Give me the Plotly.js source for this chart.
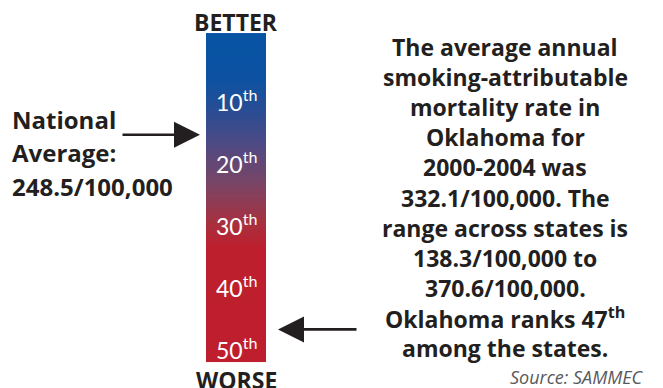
<!DOCTYPE html>
<html><head><meta charset="utf-8">
<script src="https://cdn.plot.ly/plotly-3.0.1.min.js"></script>
<style>html,body{margin:0;padding:0;background:#fff}#c{width:663px;height:388px}</style>
</head><body><div id="c"></div>
<script>
// ---- data ----
const rankTicks = [10, 20, 30, 40, 50];
const rankLabels = ['10<sup>th</sup>', '20<sup>th</sup>', '30<sup>th</sup>', '40<sup>th</sup>', '50<sup>th</sup>'];
const barRange = [-0.8, 52.4];           // rank extent of the gradient bar
const nationalRank = 15.6;                // position of national average on scale
const oklahomaRank = 47;
const leftLines = ['National', 'Average:', '248.5/100,000'];
const rightLines = ['The average annual', 'smoking-attributable', 'mortality rate in',
  'Oklahoma for', '2000-2004 was', '332.1/100,000. The', 'range across states is',
  '138.3/100,000 to', '370.6/100,000.', 'Oklahoma ranks 47<sup>th</sup>', 'among the states.'];
const topLabel = 'BETTER', bottomLabel = 'WORSE', sourceText = 'Source: SAMMEC';

// ---- layout helpers ----
const W = 663, H = 388;
const yPx0 = 38, yPxPerRank = 6.2;
const yRange = [(H - yPx0) / yPxPerRank, -yPx0 / yPxPerRank];
const py = p => 1 - p / H;
const barX = [206, 266];

// gradient rows
const ys = [], zs = [];
for (let r = barRange[0]; r <= barRange[1] + 1e-9; r += 0.25) { ys.push(r); }
for (let i = 0; i < ys.length - 1; i++) zs.push([(ys[i] + ys[i + 1]) / 2]);
const span = barRange[1] - barRange[0];
const st = r => (r - barRange[0]) / span;
const colorscale = [
  [0, '#0753a4'], [st(6.8), '#0d52a2'], [st(12.1), '#2b4c92'], [st(16.5), '#4a4a86'],
  [st(23.4), '#794566'], [st(29.8), '#a7303f'], [st(33.7), '#bd1f2d'], [1, '#be1e2d']
];

const bold = '"Open Sans", sans-serif';
const ann = [];
ann.push({xref: 'x', yref: 'paper', x: 236, y: py(22), text: '<b>' + topLabel + '</b>', showarrow: false,
  font: {family: bold, size: 23, color: '#231f20'}, xanchor: 'center', yanchor: 'middle'});
ann.push({xref: 'x', yref: 'paper', x: 236, y: py(380), text: '<b>' + bottomLabel + '</b>', showarrow: false,
  font: {family: bold, size: 23, color: '#231f20'}, xanchor: 'center', yanchor: 'middle'});
rankTicks.forEach((r, i) => ann.push({xref: 'x', yref: 'y', x: 236, y: r, text: rankLabels[i], showarrow: false,
  font: {family: 'Lato, sans-serif', size: 23, color: '#ffffff'}, xanchor: 'center', yanchor: 'middle'}));
leftLines.forEach((t, i) => ann.push({xref: 'x', yref: 'paper', x: 10, y: py(119 + i * 33.5), text: '<b>' + t + '</b>',
  showarrow: false, font: {family: bold, size: 24, color: '#231f20'}, xanchor: 'left', yanchor: 'middle'}));
rightLines.forEach((t, i) => ann.push({xref: 'x', yref: 'paper', x: 505, y: py(47 + i * 30.1), text: '<b>' + t + '</b>',
  showarrow: false, font: {family: bold, size: 23, color: '#231f20'}, xanchor: 'center', yanchor: 'middle'}));
ann.push({xref: 'x', yref: 'paper', x: 646, y: py(377), text: '<i>' + sourceText + '</i>', showarrow: false,
  font: {family: '"Open Sans", sans-serif', size: 18, color: '#58595b'}, xanchor: 'right', yanchor: 'middle'});
// arrows
ann.push({xref: 'x', yref: 'y', axref: 'x', ayref: 'y', x: 200, y: nationalRank, ax: 121, ay: nationalRank,
  text: '', showarrow: true, arrowhead: 2, arrowsize: 2.0, arrowwidth: 2.6, arrowcolor: '#231f20'});
ann.push({xref: 'x', yref: 'y', axref: 'x', ayref: 'y', x: 278, y: oklahomaRank, ax: 358, ay: oklahomaRank,
  text: '', showarrow: true, arrowhead: 2, arrowsize: 2.0, arrowwidth: 2.6, arrowcolor: '#231f20'});

Plotly.newPlot('c', [{
  type: 'heatmap', x: barX, y: ys, z: zs, colorscale: colorscale, zmin: barRange[0], zmax: barRange[1],
  showscale: false, hoverinfo: 'skip'
}], {
  width: W, height: H, margin: {l: 0, r: 0, t: 0, b: 0},
  paper_bgcolor: '#fff', plot_bgcolor: '#fff', showlegend: false,
  xaxis: {range: [0, W], visible: false, fixedrange: true},
  yaxis: {range: yRange, visible: false, fixedrange: true},
  annotations: ann
}, {staticPlot: true});
</script></body></html>
